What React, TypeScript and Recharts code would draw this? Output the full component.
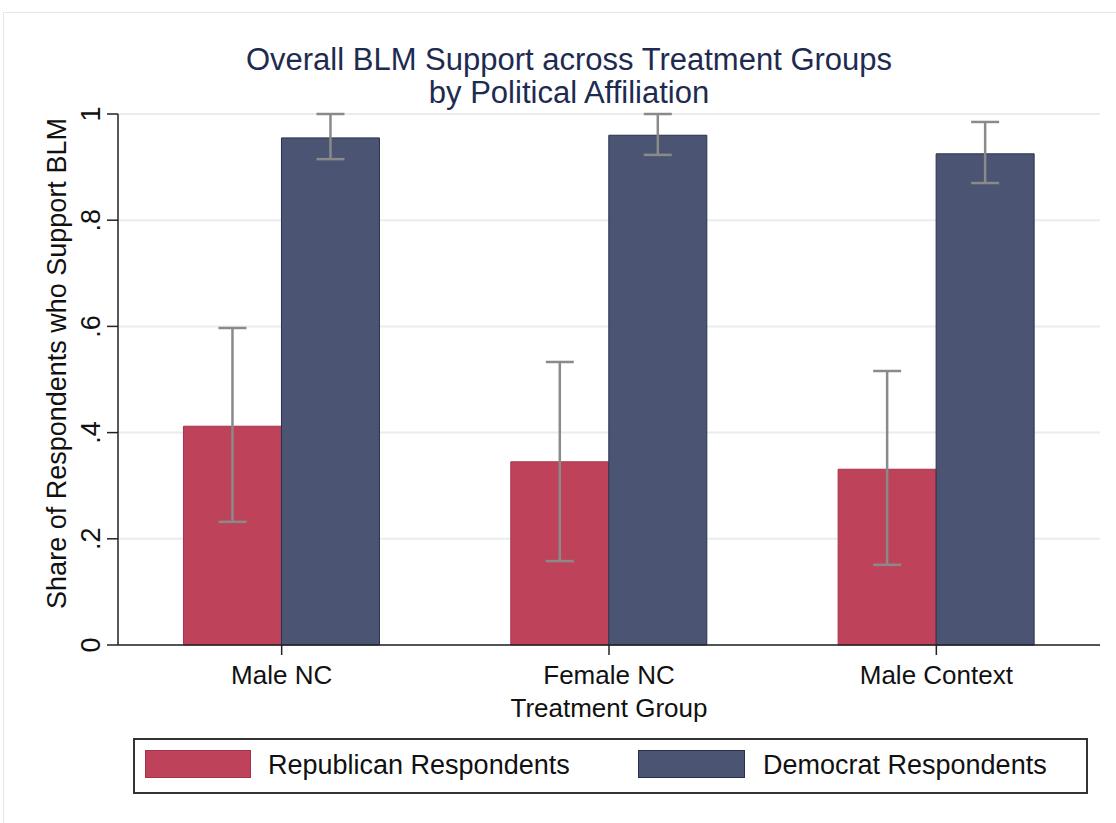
import React from 'react';
import { BarChart, Bar, XAxis, YAxis, CartesianGrid, ErrorBar } from 'recharts';

const groups = ['Male NC', 'Female NC', 'Male Context'];
const repValues = [0.412, 0.345, 0.331];
const repLow = [0.232, 0.158, 0.151];
const repHigh = [0.597, 0.533, 0.516];
const demValues = [0.955, 0.96, 0.925];
const demLow = [0.915, 0.923, 0.87];
const demHigh = [1.0, 1.0, 0.985];
const yTicks = [0, 0.2, 0.4, 0.6, 0.8, 1];

const REP = '#be435a';
const DEM = '#4b5573';
const FONT = '"Liberation Sans", Arial, sans-serif';

const data = groups.map((g, i) => ({
    group: g,
    rep: repValues[i],
    repErr: [repValues[i] - repLow[i], repHigh[i] - repValues[i]],
    dem: demValues[i],
    demErr: [demValues[i] - demLow[i], demHigh[i] - demValues[i]],
}));

const fmtTick = (v: number) => (v === 0 ? '0' : v === 1 ? '1' : String(v).replace('0.', '.'));

const YTick = (props: any) => {
    const { x, y, payload } = props;
    const tx = x - 5;
    return (
        <text
            x={tx}
            y={y}
            transform={`rotate(-90 ${tx} ${y})`}
            textAnchor="middle"
            fontSize={27}
            fontFamily={FONT}
            fill="#111"
        >
            {fmtTick(payload.value)}
        </text>
    );
};

export default function App() {
    return (
        <div style={{ position: 'absolute', left: 0, top: 0, width: 1116, height: 823, background: '#fff', overflow: 'hidden', fontFamily: FONT }}>
            <div style={{ position: 'absolute', left: 3, top: 12, width: 1130, height: 830, border: '1px solid #e3e7ea' }} />
            <div style={{ position: 'absolute', left: 0, top: 43, width: 1138, textAlign: 'center', color: '#1e2b50', fontSize: 31, lineHeight: '33px' }}>
                Overall BLM Support across Treatment Groups
                <br />
                by Political Affiliation
            </div>
            <div style={{ position: 'absolute', left: 0, top: 0 }}>
                <BarChart
                    width={1116}
                    height={823}
                    data={data}
                    margin={{ top: 114, right: 16, bottom: 138, left: 0 }}
                    barCategoryGap="20%"
                    barGap={0}
                >
                    <CartesianGrid vertical={false} stroke="#e8eef0" strokeWidth={2} />
                    <XAxis
                        dataKey="group"
                        height={40}
                        tickSize={10}
                        tickMargin={11}
                        tick={{ fontSize: 26, fontFamily: FONT, fill: '#111' }}
                        tickLine={{ stroke: '#222', strokeWidth: 1.5 }}
                        axisLine={{ stroke: '#222', strokeWidth: 1.5 }}
                        label={{ value: 'Treatment Group', position: 'bottom', offset: 14, fontSize: 26, fontFamily: FONT, fill: '#111' }}
                    />
                    <YAxis
                        width={118}
                        domain={[0, 1]}
                        ticks={yTicks}
                        tickSize={11}
                        tick={<YTick />}
                        tickLine={{ stroke: '#222', strokeWidth: 1.5 }}
                        axisLine={{ stroke: '#222', strokeWidth: 1.5 }}
                        label={{
                            content: (p: any) => {
                                const vb = p.viewBox;
                                const cx = 66;
                                const cy = vb.y + vb.height / 2 - 16;
                                return (
                                    <text x={cx} y={cy} transform={`rotate(-90 ${cx} ${cy})`} textAnchor="middle" fontSize={27} fontFamily={FONT} fill="#111">
                                        Share of Respondents who Support BLM
                                    </text>
                                );
                            },
                        }}
                    />
                    <Bar dataKey="rep" fill={REP} stroke="#a8324a" strokeWidth={1} isAnimationActive={false}>
                        <ErrorBar dataKey="repErr" width={14} stroke="#8a8a8a" strokeWidth={2.5} direction="y" />
                    </Bar>
                    <Bar dataKey="dem" fill={DEM} stroke="#27324f" strokeWidth={1} isAnimationActive={false}>
                        <ErrorBar dataKey="demErr" width={14} stroke="#8a8a8a" strokeWidth={2.5} direction="y" />
                    </Bar>
                </BarChart>
            </div>
            <div style={{ position: 'absolute', left: 133, top: 738, width: 951, height: 52, border: '2px solid #333', background: '#fff' }}>
                <div style={{ position: 'absolute', left: 10, top: 10, width: 106, height: 28, background: REP, border: '1px solid #a8324a', boxSizing: 'border-box' }} />
                <div style={{ position: 'absolute', left: 133, top: 10, fontSize: 27, lineHeight: '30px', color: '#111' }}>Republican Respondents</div>
                <div style={{ position: 'absolute', left: 503, top: 10, width: 107, height: 28, background: DEM, border: '1px solid #27324f', boxSizing: 'border-box' }} />
                <div style={{ position: 'absolute', left: 628, top: 10, fontSize: 27, lineHeight: '30px', color: '#111' }}>Democrat Respondents</div>
            </div>
        </div>
    );
}
